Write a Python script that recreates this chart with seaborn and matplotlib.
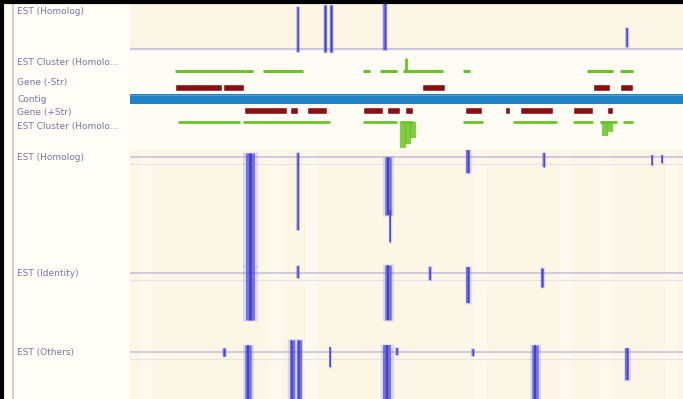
import numpy as np
import matplotlib
matplotlib.use("Agg")
import matplotlib.pyplot as plt
import seaborn as sns

# ---- track labels -------------------------------------------------------
track_labels = ["EST (Homolog)", "EST Cluster (Homolo...", "Gene (-Str)", "Contig",
                "Gene (+Str)", "EST Cluster (Homolo...", "EST (Homolog)",
                "EST (Identity)", "EST (Others)"]
label_rows = [12, 63, 82, 100, 113, 127, 158, 273, 353]

# ---- genomic features (positions in kb) ---------------------------------
gene_minus_start = [4.5, 9.3, 29.2, 46.3, 49.0]
gene_minus_end = [9.2, 11.4, 31.5, 48.0, 50.3]

gene_plus_start = [11.4, 16.0, 17.7, 23.3, 25.7, 27.5, 33.5, 37.5, 39.0, 44.3, 47.7]
gene_plus_end = [15.7, 16.8, 19.7, 25.3, 27.0, 28.3, 35.2, 38.0, 42.3, 46.3, 48.3]

cluster_minus_start = [4.5, 11.5, 13.3, 23.3, 25.0, 27.3, 33.3, 45.7, 49.0]
cluster_minus_end = [11.5, 12.3, 17.3, 24.0, 26.7, 31.3, 34.0, 48.3, 50.3]

cluster_plus_start = [4.8, 11.3, 23.3, 27.0, 33.3, 38.3, 44.3, 47.0, 49.3]
cluster_plus_end = [11.0, 20.0, 26.7, 28.3, 35.3, 42.7, 46.3, 48.7, 50.3]

# spliced cluster reads hanging below the plus-strand cluster: position, depth
cluster_drop_pos = [27.3, 27.8, 28.3, 47.5, 48.0]
cluster_drop_depth = [26, 22, 16, 14, 10]

# ---- EST alignments per track: position (kb), pileup top/bottom rows, width (px)
est_top_pos = [16.8, 19.5, 20.1, 25.5, 49.7]
est_top_y0 = [7, 5, 5, 2, 28]
est_top_y1 = [52, 52, 52, 50, 47]
est_top_w = [2.5, 3.0, 3.0, 3.5, 2.5]

est_a_pos = [12.0, 16.8, 25.8, 26.0, 33.8, 41.4, 52.2, 53.2]
est_a_y0 = [153, 153, 157, 210, 150, 153, 155, 155]
est_a_y1 = [266, 230, 215, 242, 173, 167, 165, 163]
est_a_w = [9.0, 2.5, 6.5, 2.0, 4.0, 2.5, 2.0, 2.0]

est_b_pos = [12.0, 16.8, 25.8, 30.0, 33.8, 41.2]
est_b_y0 = [266, 266, 265, 267, 267, 268]
est_b_y1 = [320, 278, 320, 280, 303, 287]
est_b_w = [9.0, 2.5, 6.5, 2.5, 4.0, 3.0]

est_c_pos = [9.4, 11.8, 16.2, 16.9, 20.0, 25.7, 26.7, 34.3, 40.5, 49.7]
est_c_y0 = [348, 345, 340, 340, 347, 345, 348, 349, 345, 348]
est_c_y1 = [356, 399, 399, 399, 367, 399, 355, 356, 399, 380]
est_c_w = [3.0, 6.5, 5.0, 5.0, 2.0, 8.0, 2.5, 2.5, 6.5, 4.0]

# track baselines (rows)
est_baselines = [157, 273, 352]

# ---- colours ------------------------------------------------------------
CREAM = "#fcf6e7"
PALE = "#fefcf5"
LABEL = "#7874a6"
BLUE = "#5656e8"
BLUE_DARK = "#3030b8"
CONTIG = "#2182c6"
RED = "#8d1010"
GREEN = "#6cc424"
GUIDE = "#cdc6dd"

sns.set_theme(style="white")
plt.rcParams["font.family"] = ["DejaVu Sans"]

W, H = 683, 399
fig = plt.figure(figsize=(W / 100, H / 100), dpi=100)
fig.patch.set_facecolor("white")

# label panel
lab = fig.add_axes([0, 0, 130 / W, 1])
lab.set_xlim(0, 130)
lab.set_ylim(H, 0)
lab.axis("off")
lab.axvspan(0, 130, color="#fffdf6", zorder=0)
lab.axvline(13, color="#c9c9c9", lw=1.2, zorder=1)
for txt, row in zip(track_labels, label_rows):
    lab.text(17, row, txt, fontsize=6.5, color=LABEL, va="center", ha="left", zorder=2)

# data panel
ax = fig.add_axes([130 / W, 0, (W - 130) / W, 1])
ax.set_xlim(0.0, (W - 130) / 10.0)
ax.set_ylim(H, 0)
ax.axis("off")

# backgrounds per track block
ax.axhspan(0, 49, color=CREAM, zorder=0)
ax.axhspan(49, 150, color=PALE, zorder=0)
ax.axhspan(150, H, color=CREAM, zorder=0)
for s in [1.0, 14.0, 17.5, 34.5, 43.0, 47.0, 53.5]:
    ax.axvspan(s, s + 1.2, ymin=0, ymax=0.62, color="#fdf9ef", zorder=0.2, lw=0)

# track guide lines
ax.axhline(49, color=GUIDE, lw=1.6, zorder=1)
for b in est_baselines:
    ax.axhline(b, color=GUIDE, lw=1.3, zorder=1)
    ax.axhline(b + 7, color="#e8e2ea", lw=0.8, zorder=1)

# contig band
ax.axhspan(94, 104, color=CONTIG, zorder=3, lw=0)
ax.axhline(94.5, color="#4e9ed6", lw=0.8, zorder=3)

# genes
def boxes(starts, ends):
    return [(s, e - s) for s, e in zip(starts, ends)]

ax.broken_barh(boxes(gene_minus_start, gene_minus_end), (84, 7), facecolors=RED, zorder=4)
ax.broken_barh(boxes(gene_plus_start, gene_plus_end), (107, 7), facecolors=RED, zorder=4)

# EST clusters
ax.hlines([71] * len(cluster_minus_start), cluster_minus_start, cluster_minus_end,
          color=GREEN, lw=2.2, zorder=4)
ax.hlines([122] * len(cluster_plus_start), cluster_plus_start, cluster_plus_end,
          color=GREEN, lw=2.0, zorder=4)
ax.vlines(cluster_drop_pos, [122] * len(cluster_drop_pos),
          [122 + d for d in cluster_drop_depth], color=GREEN, lw=4.5, alpha=0.85, zorder=4)
ax.vlines([27.6], [58], [71], color=GREEN, lw=2.0, zorder=4)

# EST pileups: soft halo, body and a darker core
def pileup(pos, y0, y1, w):
    for p, a, b, ww in zip(pos, y0, y1, w):
        ax.vlines(p, a - 1, b + 1, color=BLUE, lw=ww * 1.2, alpha=0.18, zorder=5)
        ax.vlines(p, a, b, color=BLUE, lw=ww * 0.72, alpha=0.8, zorder=5)
        ax.vlines(p, a, b, color=BLUE_DARK, lw=max(ww * 0.22, 0.6), alpha=0.7, zorder=6)

pileup(est_top_pos, est_top_y0, est_top_y1, est_top_w)
pileup(est_a_pos, est_a_y0, est_a_y1, est_a_w)
pileup(est_b_pos, est_b_y0, est_b_y1, est_b_w)
pileup(est_c_pos, est_c_y0, est_c_y1, est_c_w)

# frame: heavy top and left edge
frame = fig.add_axes([0, 0, 1, 1], facecolor="none")
frame.set_xlim(0, W)
frame.set_ylim(H, 0)
frame.axis("off")
frame.axhline(1.5, color="black", lw=3.0)
frame.axvline(1.5, color="black", lw=3.0)

fig.savefig("out.png", dpi=100)
